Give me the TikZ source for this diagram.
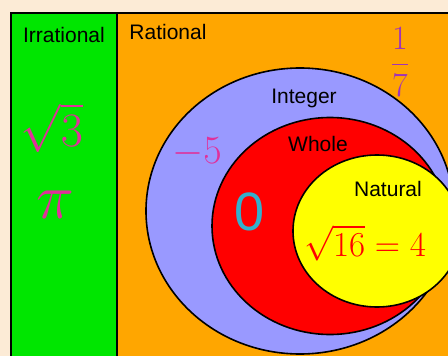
\RequirePackage{fix-cm}
\documentclass[tikz,border=0pt]{standalone}
\usepackage{amsmath}
\usepackage{fontspec}
\setmainfont{Liberation Sans}
\usetikzlibrary{shapes.geometric}
\definecolor{cream}{HTML}{FCEBD6}
\definecolor{irrgreen}{HTML}{00E600}
\definecolor{ratorange}{HTML}{FFA600}
\definecolor{intblue}{HTML}{9999FF}
\definecolor{wholered}{HTML}{FF0000}
\definecolor{natyellow}{HTML}{FFFF00}
\definecolor{penpink}{HTML}{E0309A}
\definecolor{penpurple}{HTML}{A033B8}
\definecolor{pencyan}{HTML}{33B0CC}

\begin{document}
\begin{tikzpicture}[x=1pt,y=-1pt,
setname/.style={font=\fontsize{21}{21}\selectfont,text=black,inner sep=0pt},
pen/.style={font=\fontsize{#1}{#1}\selectfont,inner sep=0pt},
venn/.style={draw=black,line width=1.6pt,ellipse,inner sep=0pt}]
\useasboundingbox (0,0) rectangle (448,356);
\fill[cream] (0,0) rectangle (448,356);
\begin{scope}
\clip (0,0) rectangle (448,356);
% the two big boxes
\draw[line width=1.6pt,fill=irrgreen] (11,13) rectangle (117,362);
\draw[line width=1.6pt,fill=ratorange] (117,13) rectangle (462,362);
% nested sets
\node[venn,fill=intblue,minimum width=308pt,minimum height=286pt] (integer) at (300,211) {};
\node[venn,fill=wholered,minimum width=236pt,minimum height=217pt] (whole) at (330,226) {};
\node[venn,fill=natyellow,minimum width=168pt,minimum height=152pt] (natural) at (377,231) {};
\end{scope}
% set names
\node[setname] (irrlbl) at (64,35) {Irrational};
\node[setname] (ratlbl) at (168,32) {Rational};
\node[setname] (intlbl) at (304,98) {Integer};
\node[setname] (wholelbl) at (318,144) {Whole};
\node[setname] (natlbl) at (388,189) {Natural};
% examples
\node[pen=48,text=penpink] (sqrtthree) at (52,128) {$\sqrt{3}$};
\node[pen=64,text=penpink] (pi) at (55,205) {$\pi$};
\node[pen=40,text=penpink] (minusfive) at (197,152) {$-5$};
\node[pen=34,text=penpurple] (seventh) at (400,62) {$\dfrac{1}{7}$};
\node[pen=54,text=pencyan] (zero) at (250,212) {0};
\node[pen=35,text=wholered] (sqrtsixteen) at (365,243) {$\sqrt{16}=4$};
\end{tikzpicture}
\end{document}
